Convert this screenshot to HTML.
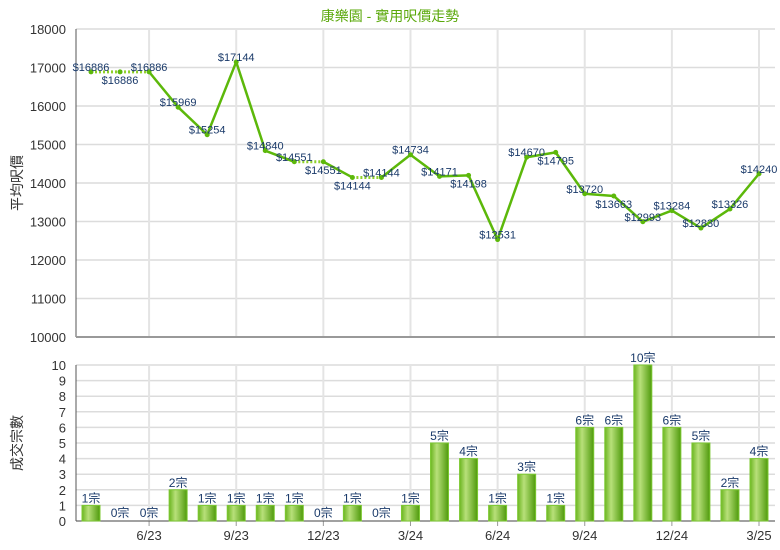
<!DOCTYPE html>
<html><head><meta charset="utf-8"><style>
body{margin:0;background:#fff;}
svg{display:block;font-family:"Liberation Sans","Noto Sans CJK TC",sans-serif;}
</style></head><body>
<svg id="c" width="780" height="550">
<defs><linearGradient id="bg" x1="0" x2="1"><stop offset="0" stop-color="#6bb520"/><stop offset="0.35" stop-color="#b8e07a"/><stop offset="1" stop-color="#4f9a0c"/></linearGradient></defs>
</svg>
<script>
const months=['4/23','5/23','6/23','7/23','8/23','9/23','10/23','11/23','12/23','1/24','2/24','3/24','4/24','5/24','6/24','7/24','8/24','9/24','10/24','11/24','12/24','1/25','2/25','3/25'];
const prices=[16886,16886,16886,15969,15254,17144,14840,14551,14551,14144,14144,14734,14171,14198,12531,14670,14795,13720,13663,12993,13284,12830,13326,14240];
const dottedSeg=[0,1,7,9];
const belowLabels=[1,8,9,13,16,18];
const counts=[1,0,0,2,1,1,1,1,0,1,0,1,5,4,1,3,1,6,6,10,6,5,2,4];
const priceTicks=[10000,11000,12000,13000,14000,15000,16000,17000,18000];
const countTicks=[0,1,2,3,4,5,6,7,8,9,10];
const xLabels=['6/23','9/23','12/23','3/24','6/24','9/24','12/24','3/25'];

const svg=document.getElementById('c');const NS='http://www.w3.org/2000/svg';
function mk(t,a,txt,name,p){const e=document.createElementNS(NS,t);for(const k in a)e.setAttribute(k,a[k]);if(txt!=null)e.textContent=txt;


(p||svg).appendChild(e);return e;}
const L=76,R=775,T1=29,B1=337,T2=365,B2=521;
const x=i=>91+i*(759-91)/(months.length-1);
const y1=v=>B1-(v-10000)/8000*(B1-T1);
const y2=v=>B2-v/10*(B2-T2);
mk('text',{x:390,y:21,'text-anchor':'middle','font-size':14,fill:'#5aa80a'},'康樂園 - 實用呎價走勢','chart-title');
priceTicks.forEach(v=>{mk('line',{x1:L,x2:R,y1:y1(v),y2:y1(v),stroke:'#dcdcdc','stroke-width':1.5},null,'price-gridline');
mk('text',{x:66,y:y1(v)+5,'text-anchor':'end','font-size':13,fill:'#333'},v,'price-tick-label');});
countTicks.forEach(v=>{mk('line',{x1:L,x2:R,y1:y2(v),y2:y2(v),stroke:'#dcdcdc','stroke-width':1.5},null,'count-gridline');
mk('text',{x:66,y:y2(v)+5,'text-anchor':'end','font-size':13,fill:'#333'},v,'count-tick-label');});
xLabels.forEach(l=>{const i=months.indexOf(l);
mk('line',{x1:x(i),x2:x(i),y1:T1,y2:B1,stroke:'#e4e4e4','stroke-width':2},null,'x-gridline');
mk('line',{x1:x(i),x2:x(i),y1:T2,y2:B2,stroke:'#e4e4e4','stroke-width':2},null,'x-gridline');
mk('line',{x1:x(i),x2:x(i),y1:B2,y2:B2+5,stroke:'#999'},null,'x-tick');
mk('text',{x:x(i),y:540,'text-anchor':'middle','font-size':13,fill:'#333'},l,'x-tick-label');});
mk('line',{x1:L,x2:L,y1:T1,y2:B1,stroke:'#555'},null,'price-y-axis');
mk('line',{x1:L,x2:R,y1:B1,y2:B1,stroke:'#999','stroke-width':2},null,'price-x-axis');
mk('line',{x1:L,x2:L,y1:T2,y2:B2,stroke:'#555'},null,'count-y-axis');
mk('line',{x1:L,x2:R,y1:B2,y2:B2,stroke:'#555'},null,'count-x-axis');
mk('text',{x:22,y:183,'text-anchor':'middle','font-size':14,fill:'#333',transform:'rotate(-90 22 183)'},'平均呎價','price-axis-title');
mk('text',{x:22,y:443,'text-anchor':'middle','font-size':14,fill:'#333',transform:'rotate(-90 22 443)'},'成交宗數','count-axis-title');
for(let i=0;i<prices.length-1;i++){const d=dottedSeg.includes(i);
mk('line',{x1:x(i),y1:y1(prices[i]),x2:x(i+1),y2:y1(prices[i+1]),stroke:d?'#8fd12a':'#5cb80a','stroke-width':d?3:2.5,'stroke-dasharray':d?'2 2':'none'},null,'price-line-segment');}
prices.forEach((v,i)=>{mk('circle',{cx:x(i),cy:y1(v),r:2.5,fill:'#5cb80a'},null,'price-point');
const below=belowLabels.includes(i);
mk('text',{x:x(i),y:below?y1(v)+12:y1(v)-1,'text-anchor':'middle','font-size':11,fill:'#1a3a6a'},'$'+v,'price-label');});
counts.forEach((v,i)=>{if(v>0)mk('rect',{x:x(i)-9,y:y2(v),width:18,height:B2-y2(v),fill:'url(#bg)',stroke:'#7cc832','stroke-width':1},null,'count-bar');
mk('text',{x:x(i),y:v>0?y2(v)-3:B2-4,'text-anchor':'middle','font-size':12,fill:'#1a3a6a'},v+'宗','count-label');});
</script>
</body></html>
